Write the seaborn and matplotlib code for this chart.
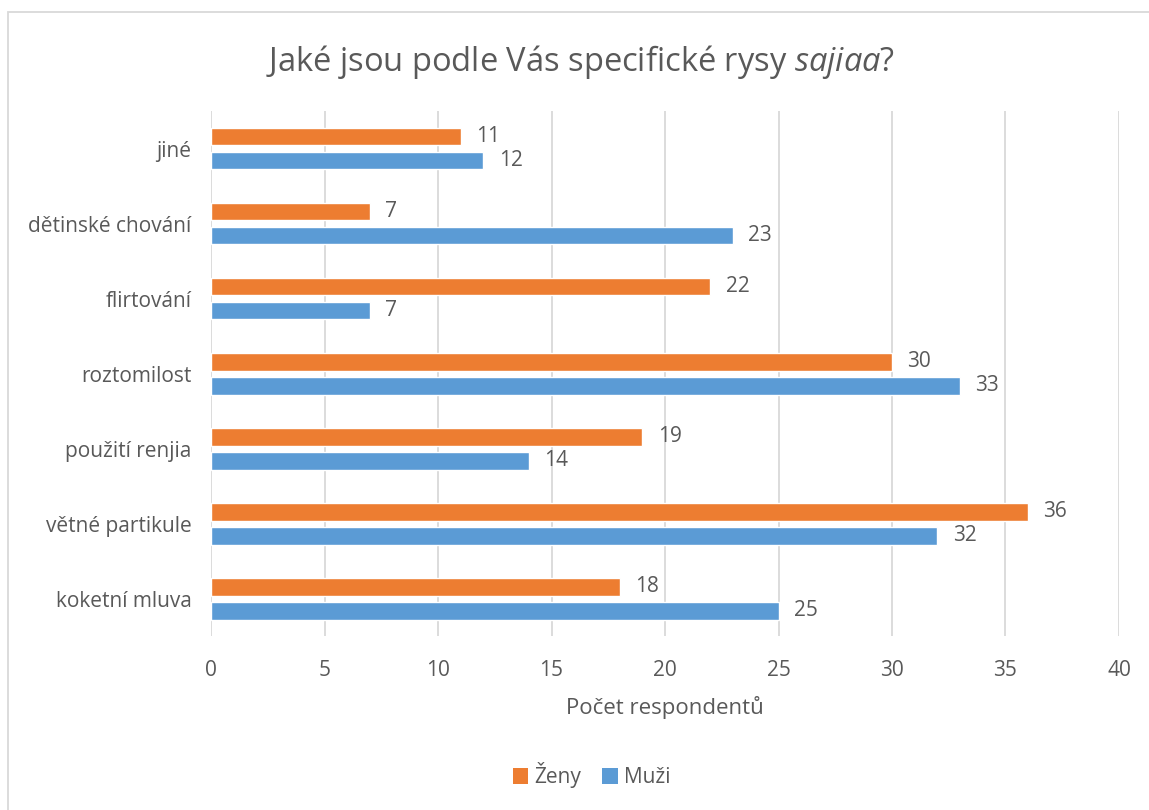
import matplotlib
matplotlib.use("Agg")
import matplotlib.pyplot as plt
import seaborn as sns
import pandas as pd
from matplotlib.patches import Rectangle, Patch

categories = ["jiné", "dětinské chování", "flirtování", "roztomilost",
              "použití renjia", "větné partikule", "koketní mluva"]
zeny = [11, 7, 22, 30, 19, 36, 18]
muzi = [12, 23, 7, 33, 14, 32, 25]
series = ["Ženy", "Muži"]
xticks = [0, 5, 10, 15, 20, 25, 30, 35, 40]

sns.set_theme(style="white")
plt.rcParams["font.family"] = ["Open Sans", "DejaVu Sans"]
plt.rcParams["mathtext.fontset"] = "custom"
plt.rcParams["mathtext.it"] = "Open Sans:italic"
plt.rcParams["mathtext.rm"] = "Open Sans"

TXT = "#595959"
GRID = "#d9d9d9"
colors = {"Ženy": "#ED7D31", "Muži": "#5B9BD5"}

df = pd.DataFrame({
    "kategorie": categories * 2,
    "pohlaví": ["Ženy"] * len(categories) + ["Muži"] * len(categories),
    "počet": zeny + muzi,
})

fig = plt.figure(figsize=(11.49, 8.10), dpi=100)
ax = fig.add_axes([0.18364, 0.21420, 0.97389 - 0.18364, 0.86296 - 0.21420])

sns.barplot(data=df, y="kategorie", x="počet", hue="pohlaví",
            order=categories, hue_order=series, palette=colors,
            orient="h", width=0.64, gap=0.27, ax=ax, legend=False,
            errorbar=None, saturation=1)

ax.set_xlim(0, 40)
ax.set_xticks(xticks)
ax.set_xticklabels([str(t) for t in xticks])
ax.grid(axis="x", color=GRID, linewidth=1.3)
ax.set_axisbelow(True)
for s in ax.spines.values():
    s.set_visible(False)
ax.tick_params(axis="x", length=0, pad=17, labelsize=15, labelcolor=TXT)
ax.tick_params(axis="y", length=0, pad=14, labelsize=15, labelcolor=TXT)
ax.set_ylabel("")
ax.set_xlabel("Počet respondentů", fontsize=16, color=TXT, labelpad=11)

for cont in ax.containers:
    ax.bar_label(cont, padding=11, fontsize=15, color=TXT)

fig.text(0.505, 0.924, r"Jaké jsou podle Vás specifické rysy $\mathit{sajiaa}$?",
         ha="center", va="center", fontsize=23.5, color=TXT)

handles = [Patch(facecolor=colors[s], edgecolor="none", label=s) for s in series]
fig.legend(handles=handles, loc="center", bbox_to_anchor=(0.515, 0.043),
           ncol=2, frameon=False, fontsize=15, labelcolor=TXT,
           handlelength=0.75, handleheight=0.75, handletextpad=0.3,
           columnspacing=1.0)

fig.patches.append(Rectangle((8 / 1149, -0.01), 1.0, 1 - 12 / 810 + 0.01,
                             transform=fig.transFigure, fill=False,
                             edgecolor=GRID, linewidth=1.3))

fig.savefig("out.png", dpi=100)
